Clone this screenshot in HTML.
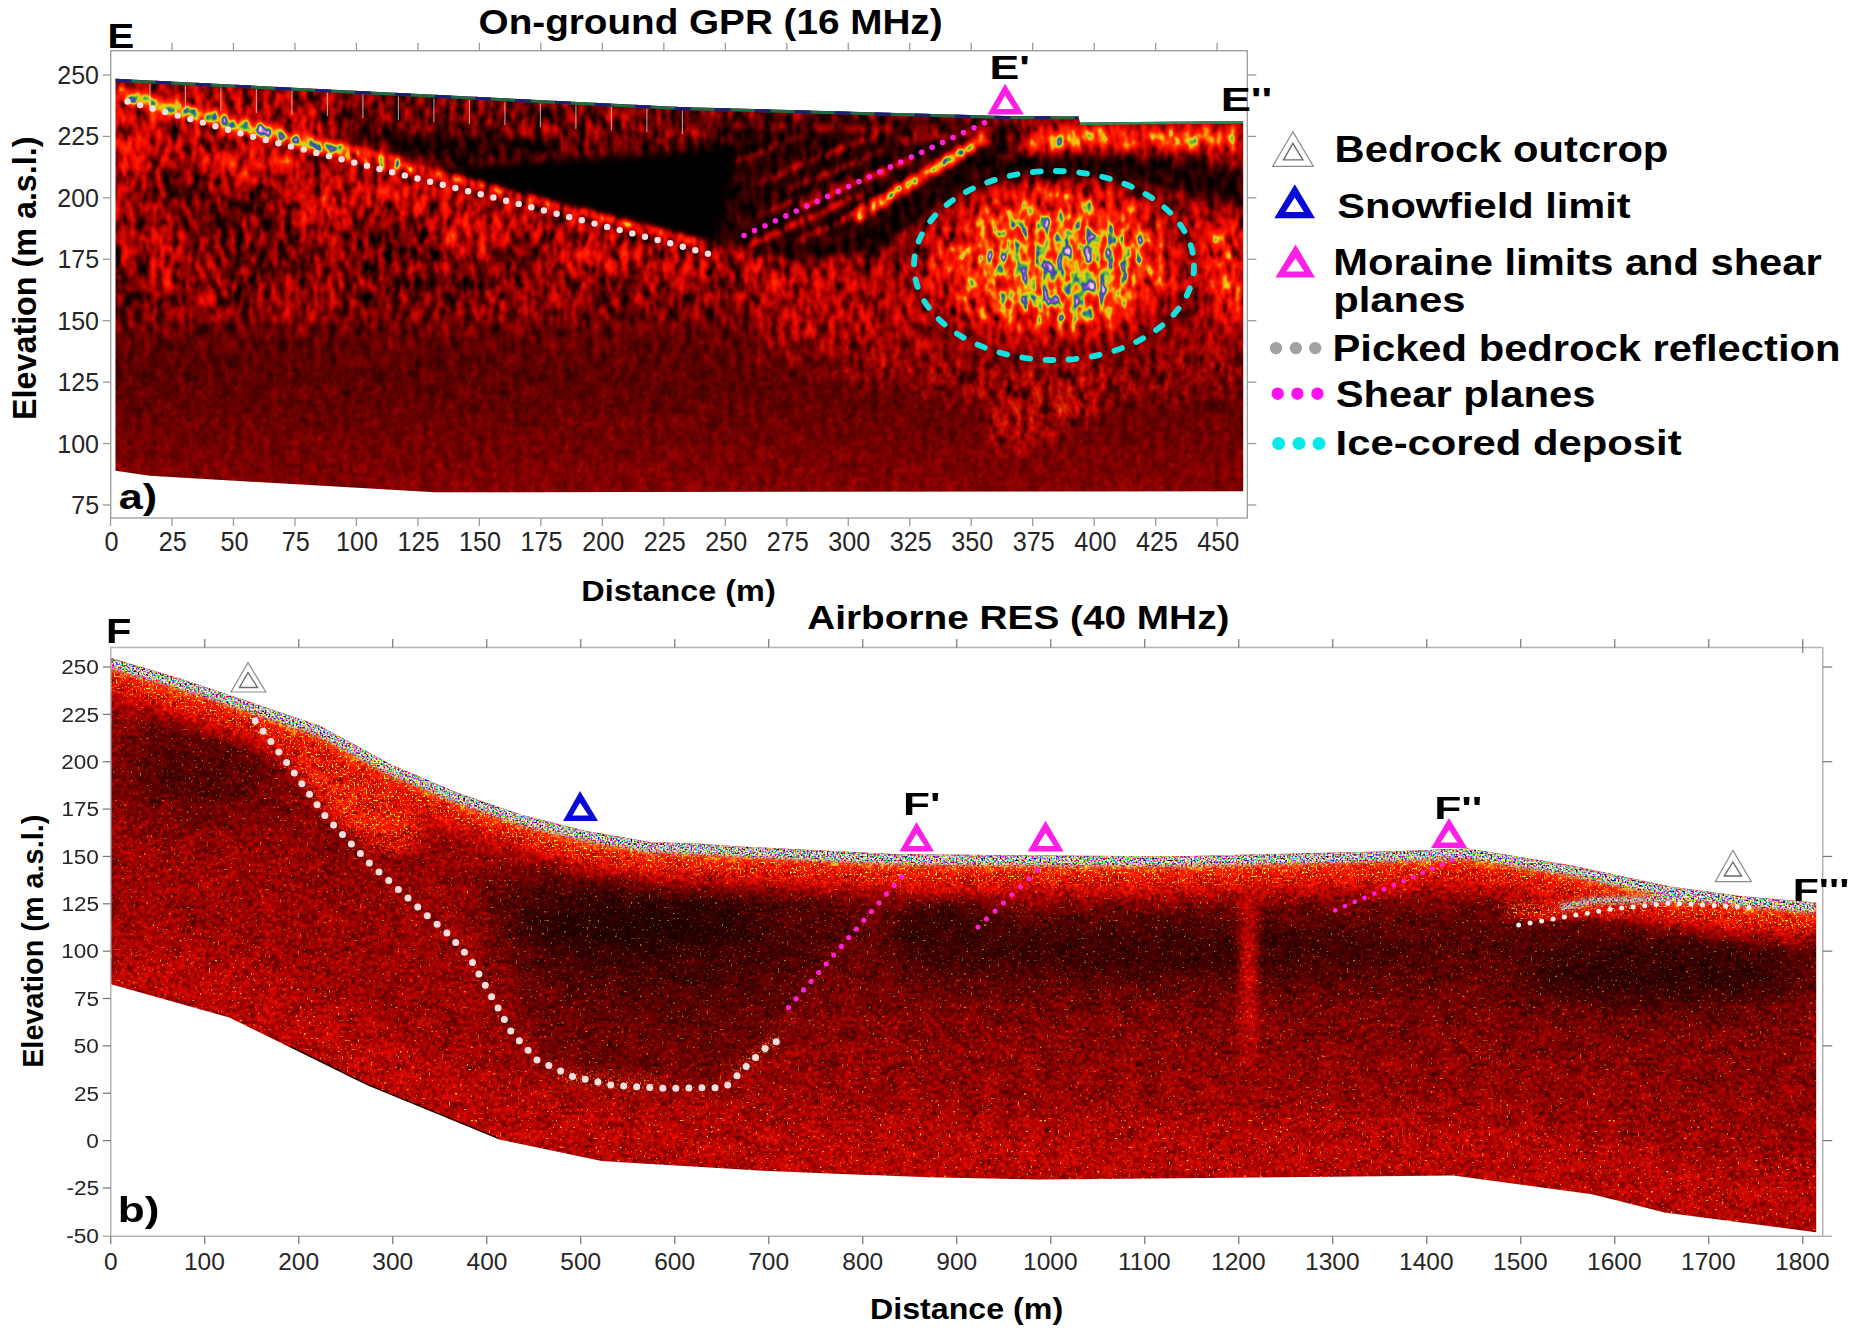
<!DOCTYPE html>
<html><head><meta charset="utf-8"><title>GPR and RES radargrams</title>
<style>html,body{margin:0;padding:0;background:#fff}svg{display:block;filter:blur(0.45px)}text{font-family:"Liberation Sans",sans-serif}</style>
</head><body>
<svg width="1856" height="1337" viewBox="0 0 1856 1337">
<defs>
<clipPath id="cA"><polygon points="115.5,78.8 680.0,107.0 1005.0,116.0 1078.5,116.5 1080.0,122.5 1243.2,121.0 1243.2,491.2 435.0,492.3 150.0,475.8 115.5,470.8"/></clipPath>
<clipPath id="cB"><polygon points="111.0,658.0 180.8,678.8 248.7,701.4 319.8,725.7 391.0,764.5 455.6,792.0 520.3,814.6 585.0,830.7 649.6,842.0 700.0,843.7 731.0,845.9 892.6,854.0 1040.0,855.6 1180.0,856.3 1400.0,851.0 1467.6,848.4 1572.0,865.6 1670.3,886.5 1744.0,896.4 1816.2,902.5 1816.2,1232.2 1664.5,1212.5 1592.0,1194.2 1453.2,1175.5 1040.0,1179.5 928.0,1177.3 763.3,1170.8 601.6,1161.0 499.2,1139.5 464.0,1125.0 368.3,1085.8 229.3,1017.5 111.0,984.3"/></clipPath>
<filter id="b2" x="-50%" y="-50%" width="200%" height="200%" color-interpolation-filters="sRGB"><feGaussianBlur stdDeviation="2"/></filter>
<filter id="b4" x="-50%" y="-50%" width="200%" height="200%" color-interpolation-filters="sRGB"><feGaussianBlur stdDeviation="4"/></filter>
<filter id="b8" x="-50%" y="-50%" width="200%" height="200%" color-interpolation-filters="sRGB"><feGaussianBlur stdDeviation="8"/></filter>
<filter id="b14" x="-50%" y="-50%" width="200%" height="200%" color-interpolation-filters="sRGB"><feGaussianBlur stdDeviation="14"/></filter>
<filter id="b25" x="-50%" y="-50%" width="200%" height="200%" color-interpolation-filters="sRGB"><feGaussianBlur stdDeviation="25"/></filter>
<filter id="b40" x="-50%" y="-50%" width="200%" height="200%" color-interpolation-filters="sRGB"><feGaussianBlur stdDeviation="40"/></filter>
<filter id="fA" filterUnits="userSpaceOnUse" x="108" y="70" width="1142" height="430" color-interpolation-filters="sRGB">
<feTurbulence type="fractalNoise" baseFrequency="0.14 0.065" numOctaves="2" seed="3" result="t0"/>
<feColorMatrix in="t0" type="matrix" values="1 0 0 0 0 1 0 0 0 0 1 0 0 0 0 0 0 0 0 1" result="n0"/>
<feTurbulence type="fractalNoise" baseFrequency="0.5 0.25" numOctaves="1" seed="9" result="t1"/>
<feColorMatrix in="t1" type="matrix" values="1 0 0 0 0 1 0 0 0 0 1 0 0 0 0 0 0 0 0 1" result="n1"/>
<feComposite in="n0" in2="n1" operator="arithmetic" k1="0" k2="0.95" k3="0.25" k4="-0.100" result="N"/>
<feColorMatrix in="SourceGraphic" type="matrix" values="1 0 0 0 0 1 0 0 0 0 1 0 0 0 0 0 0 0 0 1" result="mean"/>
<feColorMatrix in="SourceGraphic" type="matrix" values="0 1 0 0 0 0 1 0 0 0 0 1 0 0 0 0 0 0 0 1" result="con"/>
<feComposite in="con" in2="N" operator="arithmetic" k1="1" k2="0" k3="0" k4="0" result="t1"/>
<feComposite in="t1" in2="con" operator="arithmetic" k1="0" k2="3.4" k3="-1.7" k4="0.5" result="t2"/>
<feComposite in="t2" in2="mean" operator="arithmetic" k1="0" k2="1" k3="1" k4="-0.5" result="v"/>
<feGaussianBlur in="v" stdDeviation="0.9" result="v"/>
<feComponentTransfer in="v"><feFuncR type="table" tableValues="0.000 0.098 0.216 0.353 0.490 0.627 0.745 0.843 0.922 0.980 1.000 1.000 1.000 1.000 0.961 0.843 0.471 0.196 0.235 0.588 0.922"/><feFuncG type="table" tableValues="0.000 0.000 0.000 0.000 0.000 0.008 0.020 0.031 0.047 0.071 0.110 0.176 0.314 0.510 0.725 0.843 0.745 0.549 0.275 0.314 0.843"/><feFuncB type="table" tableValues="0.000 0.000 0.000 0.000 0.000 0.000 0.000 0.000 0.000 0.000 0.000 0.000 0.000 0.020 0.059 0.118 0.196 0.431 0.706 0.784 0.941"/></feComponentTransfer>
</filter>

<filter id="fB" filterUnits="userSpaceOnUse" x="104" y="650" width="1722" height="590" color-interpolation-filters="sRGB">
<feTurbulence type="fractalNoise" baseFrequency="0.33" numOctaves="2" seed="5" result="t0"/>
<feColorMatrix in="t0" type="matrix" values="1 0 0 0 0 1 0 0 0 0 1 0 0 0 0 0 0 0 0 1" result="n0"/>
<feTurbulence type="fractalNoise" baseFrequency="0.05 0.07" numOctaves="2" seed="12" result="t1"/>
<feColorMatrix in="t1" type="matrix" values="1 0 0 0 0 1 0 0 0 0 1 0 0 0 0 0 0 0 0 1" result="n1"/>
<feComposite in="n0" in2="n1" operator="arithmetic" k1="0" k2="0.95" k3="0.22" k4="-0.085" result="N"/>
<feColorMatrix in="SourceGraphic" type="matrix" values="1 0 0 0 0 1 0 0 0 0 1 0 0 0 0 0 0 0 0 1" result="mean"/>
<feColorMatrix in="SourceGraphic" type="matrix" values="0 1 0 0 0 0 1 0 0 0 0 1 0 0 0 0 0 0 0 1" result="con"/>
<feComposite in="con" in2="N" operator="arithmetic" k1="1" k2="0" k3="0" k4="0" result="t1"/>
<feComposite in="t1" in2="con" operator="arithmetic" k1="0" k2="3.0" k3="-1.5" k4="0.5" result="t2"/>
<feComposite in="t2" in2="mean" operator="arithmetic" k1="0" k2="1" k3="1" k4="-0.5" result="v"/>
<feGaussianBlur in="v" stdDeviation="0.8" result="v"/>
<feComponentTransfer in="v"><feFuncR type="table" tableValues="0.000 0.098 0.216 0.353 0.490 0.627 0.745 0.843 0.922 0.980 1.000 1.000 1.000 1.000 0.961 0.843 0.471 0.196 0.235 0.588 0.922"/><feFuncG type="table" tableValues="0.000 0.000 0.000 0.000 0.000 0.008 0.020 0.031 0.047 0.071 0.110 0.176 0.314 0.510 0.725 0.843 0.745 0.549 0.275 0.314 0.843"/><feFuncB type="table" tableValues="0.000 0.000 0.000 0.000 0.000 0.000 0.000 0.000 0.000 0.000 0.000 0.000 0.000 0.020 0.059 0.118 0.196 0.431 0.706 0.784 0.941"/></feComponentTransfer>
</filter>

<linearGradient id="gLow" x1="0" y1="0" x2="0" y2="1"><stop offset="0" stop-color="rgb(41,26,0)"/><stop offset="0.3" stop-color="rgb(47,15,0)"/><stop offset="0.8" stop-color="rgb(64,15,0)"/></linearGradient>
<filter id="fS" filterUnits="userSpaceOnUse" x="104" y="650" width="1722" height="270" color-interpolation-filters="sRGB">
<feTurbulence type="fractalNoise" baseFrequency="0.55" numOctaves="1" seed="4" result="t"/>
<feColorMatrix in="t" type="matrix" values="4.6 0 0 0 -1.55  0 4.6 0 0 -1.55  0 0 4.6 0 -1.55  0 0 0 0 1" result="c"/>
<feGaussianBlur in="c" stdDeviation="0.45" result="cb"/>
<feComposite in="cb" in2="SourceAlpha" operator="in"/></filter>
<filter id="fY" filterUnits="userSpaceOnUse" x="104" y="650" width="1722" height="590" color-interpolation-filters="sRGB">
<feTurbulence type="fractalNoise" baseFrequency="0.5" numOctaves="1" seed="7" result="t"/>
<feColorMatrix in="t" type="matrix" values="0 0 0 0 0.95  0 3 0 0 -0.8  0 0 0 0 0.06  0 0 0 9 -4.95" result="c"/>
<feGaussianBlur in="c" stdDeviation="0.4" result="cb"/>
<feComposite in="cb" in2="SourceAlpha" operator="in"/></filter>
<filter id="fY2" filterUnits="userSpaceOnUse" x="104" y="650" width="1722" height="590" color-interpolation-filters="sRGB">
<feTurbulence type="fractalNoise" baseFrequency="0.45" numOctaves="1" seed="17" result="t"/>
<feColorMatrix in="t" type="matrix" values="0 0 0 0 0.95  0 2 0 0 -0.3  0 0 0 0 0.1  0 0 0 11 -7.3" result="c"/>
<feGaussianBlur in="c" stdDeviation="0.4" result="cb"/>
<feComposite in="cb" in2="SourceAlpha" operator="in"/></filter>
<filter id="fD" filterUnits="userSpaceOnUse" x="100" y="320" width="1160" height="185" color-interpolation-filters="sRGB">
<feTurbulence type="fractalNoise" baseFrequency="0.45 0.22" numOctaves="2" seed="31" result="t"/>
<feColorMatrix in="t" type="matrix" values="0 0 0 0 0  0 0 0 0 0  0 0 0 0 0  0 0 0 6 -2.6" result="c"/>
<feGaussianBlur in="c" stdDeviation="0.8" result="cb"/>
<feComposite in="cb" in2="SourceGraphic" operator="in"/></filter>
<linearGradient id="gGrain" x1="0" y1="0" x2="0" y2="1"><stop offset="0" stop-color="#000" stop-opacity="0"/><stop offset="0.3" stop-color="#000" stop-opacity="0.4"/><stop offset="1" stop-color="#000" stop-opacity="0.32"/></linearGradient>
</defs>
<rect width="1856" height="1337" fill="#fff"/>
<g clip-path="url(#cA)">
<g filter="url(#fA)">
<rect x="100" y="60" width="1160" height="450" fill="rgb(51,48,0)"/>
<g filter="url(#b14)"><polygon points="100,95 420,160 715,250 770,290 600,300 350,300 100,310" fill="rgb(42,56,0)"/></g>
<g filter="url(#b8)"><polygon points="100,92 420,168 715,250 720,280 420,215 100,150" fill="rgb(69,76,0)"/></g>
<rect x="60" y="322" width="1240" height="230" fill="url(#gLow)" filter="url(#b14)"/>
<g filter="url(#b8)">
<ellipse cx="135" cy="150" rx="25" ry="40" fill="rgb(92,78,0)"/>
<ellipse cx="164" cy="255" rx="12" ry="50" fill="rgb(92,78,0)"/>
<ellipse cx="125" cy="230" rx="12" ry="40" fill="rgb(76,65,0)"/>
<ellipse cx="250" cy="165" rx="50" ry="20" fill="rgb(92,78,0)"/>
<ellipse cx="320" cy="205" rx="35" ry="18" fill="rgb(97,82,0)"/>
<ellipse cx="300" cy="300" rx="30" ry="25" fill="rgb(64,54,0)"/>
<ellipse cx="205" cy="280" rx="12" ry="40" fill="rgb(71,61,0)"/>
<ellipse cx="470" cy="238" rx="42" ry="14" fill="rgb(97,82,0)"/>
<ellipse cx="590" cy="262" rx="45" ry="13" fill="rgb(92,78,0)"/>
<ellipse cx="400" cy="200" rx="40" ry="15" fill="rgb(87,74,0)"/>
<ellipse cx="530" cy="300" rx="60" ry="18" fill="rgb(61,52,0)"/>
<ellipse cx="680" cy="275" rx="40" ry="15" fill="rgb(76,65,0)"/>
<ellipse cx="460" cy="225" rx="16" ry="30" fill="rgb(84,72,0)"/>
<ellipse cx="335" cy="255" rx="14" ry="35" fill="rgb(69,59,0)"/>
</g>
<g filter="url(#b4)"><polygon points="115,82 330,93 420,120 330,140 115,98" fill="rgb(69,76,0)"/></g>
<g filter="url(#b8)"><polygon points="330,95 1000,118 1000,150 740,150 330,135" fill="rgb(43,56,0)"/></g>
<g filter="url(#b4)"><polygon points="445,168 520,162 600,157 741,146 730,200 716,237 690,237 600,214 520,193 445,173" fill="rgb(0,0,0)"/>
<polygon points="340,128 560,140 560,155 430,164" fill="rgb(18,31,0)"/></g>
<g filter="url(#b8)"><polygon points="700,150 775,146 770,200 750,240 700,236" fill="rgb(0,5,0)"/></g>
<g filter="url(#b8)"><polygon points="735,245 800,262 860,250 880,290 800,310 745,300" fill="rgb(76,76,0)"/></g>
<g filter="url(#b4)"><polygon points="741,146 700,118 1000,124 1012,150 950,200 870,250 800,262 745,250 716,237" fill="rgb(18,26,0)"/></g>
<g filter="url(#b2)" fill="none" stroke-linecap="round">
<line x1="737" y1="162" x2="800" y2="136" stroke="rgb(56,56,0)" stroke-width="5"/>
<line x1="760" y1="182" x2="875" y2="135" stroke="rgb(66,66,0)" stroke-width="6"/>
<line x1="775" y1="195" x2="880" y2="152" stroke="rgb(61,61,0)" stroke-width="5"/>
<line x1="800" y1="207" x2="910" y2="160" stroke="rgb(76,76,0)" stroke-width="6"/>
<line x1="760" y1="215" x2="850" y2="178" stroke="rgb(56,56,0)" stroke-width="4"/>
<line x1="745" y1="247" x2="870" y2="190" stroke="rgb(76,76,0)" stroke-width="6"/>
<line x1="800" y1="240" x2="905" y2="190" stroke="rgb(87,87,0)" stroke-width="5"/>
<line x1="900" y1="140" x2="990" y2="130" stroke="rgb(64,64,0)" stroke-width="8"/>
<line x1="700" y1="125" x2="990" y2="131" stroke="rgb(43,43,0)" stroke-width="8"/>
</g>
<g filter="url(#b14)"><polygon points="760,300 900,260 940,340 1060,380 1180,340 1243,280 1243,390 1000,410 760,350" fill="rgb(69,56,0)"/></g>
<g filter="url(#b8)"><polygon points="1000,372 1110,360 1090,420 1020,450 985,440" fill="rgb(84,76,0)"/></g>
<g filter="url(#b14)"><ellipse cx="1052" cy="264" rx="128" ry="80" fill="rgb(107,102,0)"/></g>
<g filter="url(#b8)"><ellipse cx="1058" cy="262" rx="95" ry="62" fill="rgb(153,115,0)"/>
<ellipse cx="1068" cy="268" rx="62" ry="42" fill="rgb(178,102,0)"/></g>
<g filter="url(#b4)"><ellipse cx="1085" cy="286" rx="28" ry="9" fill="rgb(209,102,0)" transform="rotate(25 1085 286)"/>
<ellipse cx="1045" cy="262" rx="14" ry="6" fill="rgb(204,102,0)" transform="rotate(-40 1045 262)"/></g>
<g filter="url(#b4)"><path d="M868,262 Q915,205 1005,180 Q1120,170 1243,205 L1243,172 Q1110,148 1000,158 Q915,182 850,240 Z" fill="rgb(13,26,0)"/></g>
<g filter="url(#b4)"><polygon points="1030,126 1240,126 1240,152 1150,148 1030,152" fill="rgb(115,102,0)"/>
<polygon points="1040,133 1110,132 1110,142 1040,143" fill="rgb(189,76,0)"/>
<polygon points="1150,136 1235,133 1235,142 1150,145" fill="rgb(184,76,0)"/></g>
<g filter="url(#b8)"><polygon points="1195,215 1243,225 1243,330 1205,300" fill="rgb(117,102,0)"/></g>
<g filter="url(#b2)"><polyline points="116,93 253,128 330,149 400,166" fill="none" stroke="rgb(148,92,0)" stroke-width="15"/>
<polyline points="130,97 253,128.5 335,150.5" fill="none" stroke="rgb(204,76,0)" stroke-width="8"/>
<polyline points="335,150 460,181" fill="none" stroke="rgb(143,128,0)" stroke-width="7"/>
<polyline points="460,181 700,243" fill="none" stroke="rgb(128,115,0)" stroke-width="6"/>
<polyline points="855,217 987,137" fill="none" stroke="rgb(128,102,0)" stroke-width="12"/>
<polyline points="885,198 980,141" fill="none" stroke="rgb(219,89,0)" stroke-width="6"/>
</g>
</g>
<rect x="100" y="320" width="1160" height="185" fill="url(#gGrain)" filter="url(#fD)"/>
<polyline points="115.5,78.8 680.0,107.0 1005.0,116.0 1078.5,116.5" fill="none" stroke="#1c6a48" stroke-width="6"/>
<polyline points="115.5,78.8 680.0,107.0 1005.0,116.0 1078.5,116.5" fill="none" stroke="#1e1e78" stroke-width="6" stroke-dasharray="16 24"/>
<polyline points="1080.0,122.5 1243.2,121.0" fill="none" stroke="#24905a" stroke-width="5"/>
<g stroke="#fff" stroke-width="1.1" opacity="0.6">
<line x1="149.9" y1="84.0" x2="149.9" y2="107.5"/>
<line x1="185.4" y1="85.7" x2="185.4" y2="109.2"/>
<line x1="220.9" y1="87.5" x2="220.9" y2="111.0"/>
<line x1="256.4" y1="89.3" x2="256.4" y2="112.8"/>
<line x1="291.9" y1="91.1" x2="291.9" y2="114.6"/>
<line x1="327.4" y1="92.8" x2="327.4" y2="116.3"/>
<line x1="362.9" y1="94.6" x2="362.9" y2="118.1"/>
<line x1="398.4" y1="96.4" x2="398.4" y2="119.9"/>
<line x1="433.9" y1="98.2" x2="433.9" y2="121.7"/>
<line x1="469.4" y1="99.9" x2="469.4" y2="123.4"/>
<line x1="504.9" y1="101.7" x2="504.9" y2="125.2"/>
<line x1="540.4" y1="103.5" x2="540.4" y2="127.0"/>
<line x1="575.9" y1="105.3" x2="575.9" y2="128.8"/>
<line x1="611.4" y1="107.0" x2="611.4" y2="130.5"/>
<line x1="646.9" y1="108.8" x2="646.9" y2="132.3"/>
<line x1="682.4" y1="110.6" x2="682.4" y2="134.1"/>
</g>
</g>
<g fill="#efe0e0" opacity="1"><circle cx="127.5" cy="101.5" r="3.2"/><circle cx="140.1" cy="105.0" r="3.2"/><circle cx="152.6" cy="108.5" r="3.2"/><circle cx="165.2" cy="112.1" r="3.2"/><circle cx="177.7" cy="115.6" r="3.2"/><circle cx="190.3" cy="119.1" r="3.2"/><circle cx="202.9" cy="122.6" r="3.2"/><circle cx="215.4" cy="126.2" r="3.2"/><circle cx="228.0" cy="129.7" r="3.2"/><circle cx="240.5" cy="133.2" r="3.2"/><circle cx="253.1" cy="136.7" r="3.2"/><circle cx="265.7" cy="140.0" r="3.2"/><circle cx="278.4" cy="143.2" r="3.2"/><circle cx="291.0" cy="146.4" r="3.2"/><circle cx="303.7" cy="149.6" r="3.2"/><circle cx="316.3" cy="152.9" r="3.2"/><circle cx="328.9" cy="156.1" r="3.2"/><circle cx="341.6" cy="159.3" r="3.2"/><circle cx="354.2" cy="162.6" r="3.2"/><circle cx="366.9" cy="165.8" r="3.2"/><circle cx="379.5" cy="169.0" r="3.2"/><circle cx="392.2" cy="172.2" r="3.2"/><circle cx="404.8" cy="175.4" r="3.2"/><circle cx="417.5" cy="178.5" r="3.2"/><circle cx="430.1" cy="181.7" r="3.2"/><circle cx="442.8" cy="184.8" r="3.2"/><circle cx="455.4" cy="188.0" r="3.2"/><circle cx="468.1" cy="191.2" r="3.2"/><circle cx="480.7" cy="194.3" r="3.2"/><circle cx="493.4" cy="197.5" r="3.2"/><circle cx="506.1" cy="200.7" r="3.2"/><circle cx="518.7" cy="203.9" r="3.2"/><circle cx="531.3" cy="207.2" r="3.2"/><circle cx="543.9" cy="210.5" r="3.2"/><circle cx="556.6" cy="213.8" r="3.2"/><circle cx="569.2" cy="217.0" r="3.2"/><circle cx="581.8" cy="220.3" r="3.2"/><circle cx="594.5" cy="223.6" r="3.2"/><circle cx="607.1" cy="226.9" r="3.2"/><circle cx="619.7" cy="230.1" r="3.2"/><circle cx="632.3" cy="233.4" r="3.2"/><circle cx="645.0" cy="236.7" r="3.2"/><circle cx="657.6" cy="240.0" r="3.2"/><circle cx="670.2" cy="243.2" r="3.2"/><circle cx="682.8" cy="246.7" r="3.2"/><circle cx="695.3" cy="250.3" r="3.2"/><circle cx="707.9" cy="253.8" r="3.2"/></g>
<g fill="#ff20dc" opacity="1"><circle cx="744.1" cy="235.5" r="2.8"/><circle cx="754.5" cy="230.6" r="2.8"/><circle cx="765.0" cy="225.7" r="2.8"/><circle cx="775.4" cy="220.8" r="2.8"/><circle cx="785.9" cy="215.9" r="2.8"/><circle cx="796.3" cy="211.0" r="2.8"/><circle cx="806.8" cy="206.1" r="2.8"/><circle cx="817.2" cy="201.2" r="2.8"/><circle cx="827.7" cy="196.3" r="2.8"/><circle cx="838.1" cy="191.4" r="2.8"/><circle cx="848.6" cy="186.5" r="2.8"/><circle cx="859.0" cy="181.6" r="2.8"/><circle cx="869.5" cy="176.7" r="2.8"/><circle cx="879.9" cy="171.8" r="2.8"/><circle cx="890.4" cy="166.9" r="2.8"/><circle cx="900.8" cy="162.0" r="2.8"/><circle cx="911.3" cy="157.1" r="2.8"/><circle cx="921.7" cy="152.2" r="2.8"/><circle cx="932.2" cy="147.3" r="2.8"/><circle cx="942.6" cy="142.4" r="2.8"/><circle cx="953.1" cy="137.5" r="2.8"/><circle cx="963.5" cy="132.6" r="2.8"/><circle cx="974.0" cy="127.7" r="2.8"/><circle cx="984.4" cy="122.8" r="2.8"/></g>
<ellipse cx="1054" cy="265.5" rx="140" ry="94.5" fill="none" stroke="#14e0e0" stroke-width="5.8" stroke-linecap="round" stroke-dasharray="8 15.3"/>
<g stroke="#9a9a9a" stroke-width="1.3" fill="none">
<rect x="110.75" y="50.75" width="1136.55" height="467.25"/>
<line x1="110.50" y1="518.0" x2="110.50" y2="526.0"/>
<line x1="171.98" y1="518.0" x2="171.98" y2="526.0"/>
<line x1="171.98" y1="50.75" x2="171.98" y2="42.75"/>
<line x1="233.46" y1="518.0" x2="233.46" y2="526.0"/>
<line x1="233.46" y1="50.75" x2="233.46" y2="42.75"/>
<line x1="294.94" y1="518.0" x2="294.94" y2="526.0"/>
<line x1="294.94" y1="50.75" x2="294.94" y2="42.75"/>
<line x1="356.42" y1="518.0" x2="356.42" y2="526.0"/>
<line x1="356.42" y1="50.75" x2="356.42" y2="42.75"/>
<line x1="417.90" y1="518.0" x2="417.90" y2="526.0"/>
<line x1="417.90" y1="50.75" x2="417.90" y2="42.75"/>
<line x1="479.38" y1="518.0" x2="479.38" y2="526.0"/>
<line x1="479.38" y1="50.75" x2="479.38" y2="42.75"/>
<line x1="540.86" y1="518.0" x2="540.86" y2="526.0"/>
<line x1="540.86" y1="50.75" x2="540.86" y2="42.75"/>
<line x1="602.34" y1="518.0" x2="602.34" y2="526.0"/>
<line x1="602.34" y1="50.75" x2="602.34" y2="42.75"/>
<line x1="663.82" y1="518.0" x2="663.82" y2="526.0"/>
<line x1="663.82" y1="50.75" x2="663.82" y2="42.75"/>
<line x1="725.30" y1="518.0" x2="725.30" y2="526.0"/>
<line x1="725.30" y1="50.75" x2="725.30" y2="42.75"/>
<line x1="786.78" y1="518.0" x2="786.78" y2="526.0"/>
<line x1="786.78" y1="50.75" x2="786.78" y2="42.75"/>
<line x1="848.26" y1="518.0" x2="848.26" y2="526.0"/>
<line x1="848.26" y1="50.75" x2="848.26" y2="42.75"/>
<line x1="909.74" y1="518.0" x2="909.74" y2="526.0"/>
<line x1="909.74" y1="50.75" x2="909.74" y2="42.75"/>
<line x1="971.22" y1="518.0" x2="971.22" y2="526.0"/>
<line x1="971.22" y1="50.75" x2="971.22" y2="42.75"/>
<line x1="1032.70" y1="518.0" x2="1032.70" y2="526.0"/>
<line x1="1032.70" y1="50.75" x2="1032.70" y2="42.75"/>
<line x1="1094.18" y1="518.0" x2="1094.18" y2="526.0"/>
<line x1="1094.18" y1="50.75" x2="1094.18" y2="42.75"/>
<line x1="1155.66" y1="518.0" x2="1155.66" y2="526.0"/>
<line x1="1155.66" y1="50.75" x2="1155.66" y2="42.75"/>
<line x1="1217.14" y1="518.0" x2="1217.14" y2="526.0"/>
<line x1="1217.14" y1="50.75" x2="1217.14" y2="42.75"/>
<line x1="110.75" y1="504.97" x2="102.75" y2="504.97"/>
<line x1="1247.3" y1="504.97" x2="1256.3" y2="504.97"/>
<line x1="110.75" y1="443.55" x2="102.75" y2="443.55"/>
<line x1="1247.3" y1="443.55" x2="1256.3" y2="443.55"/>
<line x1="110.75" y1="382.12" x2="102.75" y2="382.12"/>
<line x1="1247.3" y1="382.12" x2="1256.3" y2="382.12"/>
<line x1="110.75" y1="320.70" x2="102.75" y2="320.70"/>
<line x1="1247.3" y1="320.70" x2="1256.3" y2="320.70"/>
<line x1="110.75" y1="259.27" x2="102.75" y2="259.27"/>
<line x1="1247.3" y1="259.27" x2="1256.3" y2="259.27"/>
<line x1="110.75" y1="197.85" x2="102.75" y2="197.85"/>
<line x1="1247.3" y1="197.85" x2="1256.3" y2="197.85"/>
<line x1="110.75" y1="136.43" x2="102.75" y2="136.43"/>
<line x1="1247.3" y1="136.43" x2="1256.3" y2="136.43"/>
<line x1="110.75" y1="75.00" x2="102.75" y2="75.00"/>
<line x1="1247.3" y1="75.00" x2="1256.3" y2="75.00"/>
</g>
<text transform="translate(104.47,550.75) scale(0.9000,1)" font-size="28" font-weight="normal" fill="#262626">0</text>
<text transform="translate(158.86,550.75) scale(0.9000,1)" font-size="28" font-weight="normal" fill="#262626">25</text>
<text transform="translate(220.40,550.75) scale(0.9000,1)" font-size="28" font-weight="normal" fill="#262626">50</text>
<text transform="translate(281.82,550.75) scale(0.9000,1)" font-size="28" font-weight="normal" fill="#262626">75</text>
<text transform="translate(335.93,550.75) scale(0.9000,1)" font-size="28" font-weight="normal" fill="#262626">100</text>
<text transform="translate(397.47,550.75) scale(0.9000,1)" font-size="28" font-weight="normal" fill="#262626">125</text>
<text transform="translate(458.89,550.75) scale(0.9000,1)" font-size="28" font-weight="normal" fill="#262626">150</text>
<text transform="translate(520.43,550.75) scale(0.9000,1)" font-size="28" font-weight="normal" fill="#262626">175</text>
<text transform="translate(582.19,550.75) scale(0.9000,1)" font-size="28" font-weight="normal" fill="#262626">200</text>
<text transform="translate(643.73,550.75) scale(0.9000,1)" font-size="28" font-weight="normal" fill="#262626">225</text>
<text transform="translate(705.15,550.75) scale(0.9000,1)" font-size="28" font-weight="normal" fill="#262626">250</text>
<text transform="translate(766.69,550.75) scale(0.9000,1)" font-size="28" font-weight="normal" fill="#262626">275</text>
<text transform="translate(828.22,550.75) scale(0.9000,1)" font-size="28" font-weight="normal" fill="#262626">300</text>
<text transform="translate(889.76,550.75) scale(0.9000,1)" font-size="28" font-weight="normal" fill="#262626">325</text>
<text transform="translate(951.18,550.75) scale(0.9000,1)" font-size="28" font-weight="normal" fill="#262626">350</text>
<text transform="translate(1012.72,550.75) scale(0.9000,1)" font-size="28" font-weight="normal" fill="#262626">375</text>
<text transform="translate(1074.37,550.75) scale(0.9000,1)" font-size="28" font-weight="normal" fill="#262626">400</text>
<text transform="translate(1135.90,550.75) scale(0.9000,1)" font-size="28" font-weight="normal" fill="#262626">425</text>
<text transform="translate(1197.33,550.75) scale(0.9000,1)" font-size="28" font-weight="normal" fill="#262626">450</text>
<text transform="translate(71.25,513.97) scale(1.0000,1)" font-size="25" font-weight="normal" fill="#262626">75</text>
<text transform="translate(57.25,452.55) scale(1.0000,1)" font-size="25" font-weight="normal" fill="#262626">100</text>
<text transform="translate(57.38,391.12) scale(1.0000,1)" font-size="25" font-weight="normal" fill="#262626">125</text>
<text transform="translate(57.25,329.70) scale(1.0000,1)" font-size="25" font-weight="normal" fill="#262626">150</text>
<text transform="translate(57.38,268.27) scale(1.0000,1)" font-size="25" font-weight="normal" fill="#262626">175</text>
<text transform="translate(57.25,206.85) scale(1.0000,1)" font-size="25" font-weight="normal" fill="#262626">200</text>
<text transform="translate(57.38,145.43) scale(1.0000,1)" font-size="25" font-weight="normal" fill="#262626">225</text>
<text transform="translate(57.25,84.00) scale(1.0000,1)" font-size="25" font-weight="normal" fill="#262626">250</text>
<text transform="translate(478.57,33.70) scale(1.0898,1)" font-size="35.5" font-weight="bold" fill="#000" >On-ground GPR (16 MHz)</text>
<text transform="translate(107.39,48.00) scale(1.1613,1)" font-size="34.5" font-weight="bold" fill="#000" >E</text>
<text transform="translate(989.46,78.75) scale(1.3527,1)" font-size="33" font-weight="bold" fill="#000" >E'</text>
<text transform="translate(1220.67,111.25) scale(1.3704,1)" font-size="33" font-weight="bold" fill="#000" >E''</text>
<text transform="translate(118.77,508.75) scale(1.2335,1)" font-size="35" font-weight="bold" fill="#000" >a)</text>
<text transform="translate(36.00,419.94) rotate(-90) scale(0.9497,1)" font-size="34" font-weight="bold" fill="#000">Elevation (m a.s.l.)</text>
<text transform="translate(581.26,600.70) scale(1.0694,1)" font-size="30.3" font-weight="bold" fill="#000" >Distance (m)</text>
<path fill="#ff1ee6" fill-rule="evenodd" d="M1005.0,83.8 L1023.8,114.5 L987.5,114.5 Z M1005.0,95.7 L1013.9,108.9 L997.3,108.9 Z"/>
<path fill="#fff" fill-opacity="0.85" stroke="#8c8c8c" stroke-width="1.2" d="M1292.9,131.6 L1313.4,166.4 L1272.6,166.4 Z"/>
<path fill="none" stroke="#6a6a6a" stroke-width="1.4" d="M1292.9,143.4 L1302.9,159.9 L1283.5,159.9 Z"/>
<path fill="#0a0ad8" fill-rule="evenodd" d="M1294.8,184.3 L1315.0,218.3 L1274.3,218.3 Z M1294.8,197.6 L1304.0,212.1 L1285.4,212.1 Z"/>
<path fill="#ff1ee6" fill-rule="evenodd" d="M1295.6,244.5 L1315.0,277.6 L1275.4,277.6 Z M1295.6,258.2 L1304.2,271.6 L1286.2,271.6 Z"/>
<text transform="translate(1334.57,162.30) scale(1.1466,1)" font-size="36.4" font-weight="bold" fill="#000" >Bedrock outcrop</text>
<text transform="translate(1337.24,217.50) scale(1.1560,1)" font-size="36" font-weight="bold" fill="#000" >Snowfield limit</text>
<text transform="translate(1333.25,274.80) scale(1.1575,1)" font-size="36" font-weight="bold" fill="#000" >Moraine limits and shear</text>
<text transform="translate(1333.24,312.40) scale(1.1605,1)" font-size="36" font-weight="bold" fill="#000" >planes</text>
<text transform="translate(1332.48,361.40) scale(1.1438,1)" font-size="36.5" font-weight="bold" fill="#000" >Picked bedrock reflection</text>
<text transform="translate(1335.64,407.30) scale(1.1596,1)" font-size="36" font-weight="bold" fill="#000" >Shear planes</text>
<text transform="translate(1335.60,455.10) scale(1.1772,1)" font-size="35.5" font-weight="bold" fill="#000" >Ice-cored deposit</text>
<circle cx="1276" cy="348.1" r="6.2" fill="#a2a2a2"/>
<circle cx="1295.8" cy="348.1" r="6.2" fill="#a2a2a2"/>
<circle cx="1315.2" cy="348.1" r="6.2" fill="#a2a2a2"/>
<circle cx="1277.7" cy="393.7" r="6.2" fill="#ff10f0"/>
<circle cx="1297.4" cy="393.7" r="6.2" fill="#ff10f0"/>
<circle cx="1317.4" cy="393.7" r="6.2" fill="#ff10f0"/>
<circle cx="1278.6" cy="443.5" r="6.5" fill="#08eaea"/>
<circle cx="1299" cy="443.5" r="6.5" fill="#08eaea"/>
<circle cx="1319" cy="443.5" r="6.5" fill="#08eaea"/>
<g clip-path="url(#cB)">
<g filter="url(#fB)">
<rect x="100" y="640" width="1730" height="610" fill="rgb(61,54,0)"/>
<polyline points="1816.2,1207.2 1664.5,1187.5 1592.0,1169.2 1453.2,1150.5 1040.0,1154.5 928.0,1152.3 763.3,1145.8 601.6,1136.0 499.2,1114.5 464.0,1100.0 368.3,1060.8 229.3,992.5 111.0,959.3" fill="none" stroke="rgb(73,61,0)" stroke-width="70" filter="url(#b14)"/>
<g filter="url(#b40)"><polygon points="860,900 1500,900 1830,930 1830,1090 1500,1060 860,1040" fill="rgb(48,48,0)"/>
<polygon points="470,860 880,880 860,1040 560,1040" fill="rgb(51,48,0)"/></g>
<g filter="url(#b8)"><polygon points="478,885 505,965 525,1030 550,1058 605,1072 700,1076 728,1068 775,1030 850,935 885,885 700,870" fill="rgb(45,43,0)"/></g>
<g filter="url(#b25)">
<ellipse cx="195" cy="770" rx="85" ry="50" fill="rgb(33,33,0)"/>
<ellipse cx="330" cy="835" rx="80" ry="30" fill="rgb(51,41,0)" transform="rotate(38 330 835)"/>
<polygon points="490,875 640,885 870,905 815,985 700,1020 570,995 505,930" fill="rgb(31,31,0)"/>
<rect x="880" y="915" width="960" height="65" fill="rgb(33,33,0)"/>
</g>
<g filter="url(#b14)">
<ellipse cx="640" cy="925" rx="120" ry="28" fill="rgb(18,20,0)"/>
<ellipse cx="1660" cy="975" rx="140" ry="30" fill="rgb(23,26,0)"/>
<ellipse cx="1150" cy="950" rx="250" ry="22" fill="rgb(26,26,0)"/>
<ellipse cx="940" cy="930" rx="50" ry="35" fill="rgb(26,26,0)"/>
</g>
<rect x="1240" y="895" width="17" height="175" fill="rgb(76,56,0)" filter="url(#b4)"/>
<g filter="url(#b8)"><polygon points="275,733 330,745 400,790 425,830 395,852 340,822 300,772" fill="rgb(107,128,0)"/></g>
<polyline points="1525,914 1592,906 1700,908 1816,916" fill="none" stroke="rgb(102,102,0)" stroke-linecap="round" stroke-width="18" filter="url(#b8)"/>
<polyline points="111.0,680.0 180.8,700.8 248.7,723.4 319.8,747.7 391.0,786.5 455.6,814.0 520.3,836.6 585.0,852.7 649.6,864.0 700.0,865.7 731.0,867.9 892.6,876.0 1040.0,877.6 1180.0,878.3 1400.0,873.0 1467.6,870.4 1572.0,887.6 1670.3,908.5 1744.0,918.4 1816.2,924.5" fill="none" stroke="rgb(92,82,0)" stroke-width="36" filter="url(#b8)"/>
<polyline points="111.0,667.0 180.8,687.8 248.7,710.4 319.8,734.7 391.0,773.5 455.6,801.0 520.3,823.6 585.0,839.7 649.6,851.0 700.0,852.7 731.0,854.9 892.6,863.0 1040.0,864.6 1180.0,865.3 1400.0,860.0 1467.6,857.4 1572.0,874.6 1670.3,895.5 1744.0,905.4 1816.2,911.5" fill="none" stroke="rgb(143,128,0)" stroke-width="15" filter="url(#b4)"/>
</g>
<g filter="url(#fY2)"><rect x="100" y="640" width="1730" height="610" fill="#000" opacity="0.55"/>
<polyline points="1816.2,1202.2 1664.5,1182.5 1592.0,1164.2 1453.2,1145.5 1040.0,1149.5 928.0,1147.3 763.3,1140.8 601.6,1131.0 499.2,1109.5 464.0,1095.0 368.3,1055.8 229.3,987.5 111.0,954.3" fill="none" stroke="#000" stroke-width="90" opacity="0.6" filter="url(#b14)"/></g>
<g filter="url(#fY)"><polyline points="111.0,672.0 180.8,692.8 248.7,715.4 319.8,739.7 391.0,778.5 455.6,806.0 520.3,828.6 585.0,844.7 649.6,856.0 700.0,857.7 731.0,859.9 892.6,868.0 1040.0,869.6 1180.0,870.3 1400.0,865.0 1467.6,862.4 1572.0,879.6 1670.3,900.5 1744.0,910.4 1816.2,916.5" fill="none" stroke="#000" stroke-width="30" filter="url(#b4)"/>
<polyline points="1508,913 1560,908 1592,904 1700,906 1816,914" fill="none" stroke="#000" stroke-width="16" filter="url(#b4)"/>
<g filter="url(#b4)" fill="none" stroke="#000" stroke-width="9" opacity="0.8"><polyline points="560,1076 640,1084 660,1083"/><polyline points="735,1074 778,1036"/></g>
<g filter="url(#b8)"><polygon points="275,733 330,745 400,790 425,830 395,852 340,822 300,772" fill="#000" opacity="0.9"/></g></g>
<polyline points="290,1046.5 368.3,1085.3 464,1124.5 498,1138.5" fill="none" stroke="#100000" stroke-width="1.8"/>
<g filter="url(#fS)"><g filter="url(#b2)"><polyline points="111.0,662.5 180.8,683.3 248.7,705.9 319.8,730.2 391.0,769.0 455.6,796.5 520.3,819.1 585.0,835.2 649.6,846.5 700.0,848.2 731.0,850.4 892.6,858.5 1040.0,860.1 1180.0,860.8 1400.0,855.5 1467.6,852.9 1572.0,870.1 1670.3,891.0 1744.0,900.9 1816.2,907.0" fill="none" stroke="#000" stroke-width="12"/>
<polyline points="1560,908 1592,900.5 1700,899 1760,901 1816,906" fill="none" stroke="#000" stroke-width="7" opacity="0.9"/></g></g>
</g>
<g fill="#f3dede" opacity="1"><circle cx="255.2" cy="720.8" r="3.5"/><circle cx="263.1" cy="731.2" r="3.5"/><circle cx="270.9" cy="741.6" r="3.5"/><circle cx="278.8" cy="752.1" r="3.5"/><circle cx="286.6" cy="762.5" r="3.5"/><circle cx="294.3" cy="773.1" r="3.5"/><circle cx="301.9" cy="783.7" r="3.5"/><circle cx="309.5" cy="794.2" r="3.5"/><circle cx="317.1" cy="804.8" r="3.5"/><circle cx="324.8" cy="815.4" r="3.5"/><circle cx="333.6" cy="825.0" r="3.5"/><circle cx="342.5" cy="834.6" r="3.5"/><circle cx="351.4" cy="844.1" r="3.5"/><circle cx="360.4" cy="853.6" r="3.5"/><circle cx="369.3" cy="863.1" r="3.5"/><circle cx="379.0" cy="871.9" r="3.5"/><circle cx="388.7" cy="880.6" r="3.5"/><circle cx="398.3" cy="889.4" r="3.5"/><circle cx="408.0" cy="898.1" r="3.5"/><circle cx="417.7" cy="906.9" r="3.5"/><circle cx="427.3" cy="915.7" r="3.5"/><circle cx="437.1" cy="924.3" r="3.5"/><circle cx="446.9" cy="932.9" r="3.5"/><circle cx="455.7" cy="942.6" r="3.5"/><circle cx="464.4" cy="952.3" r="3.5"/><circle cx="472.5" cy="962.5" r="3.5"/><circle cx="478.9" cy="973.9" r="3.5"/><circle cx="485.3" cy="985.3" r="3.5"/><circle cx="491.6" cy="996.7" r="3.5"/><circle cx="498.0" cy="1008.1" r="3.5"/><circle cx="504.3" cy="1019.5" r="3.5"/><circle cx="510.7" cy="1030.9" r="3.5"/><circle cx="519.3" cy="1040.7" r="3.5"/><circle cx="528.1" cy="1050.3" r="3.5"/><circle cx="537.0" cy="1059.9" r="3.5"/><circle cx="548.8" cy="1065.4" r="3.5"/><circle cx="560.6" cy="1070.9" r="3.5"/><circle cx="572.5" cy="1076.4" r="3.5"/><circle cx="585.2" cy="1079.2" r="3.5"/><circle cx="597.9" cy="1082.1" r="3.5"/><circle cx="610.7" cy="1085.0" r="3.5"/><circle cx="623.7" cy="1085.9" r="3.5"/><circle cx="636.7" cy="1086.7" r="3.5"/><circle cx="649.7" cy="1087.5" r="3.5"/><circle cx="662.8" cy="1088.3" r="3.5"/><circle cx="675.8" cy="1088.2" r="3.5"/><circle cx="688.9" cy="1088.0" r="3.5"/><circle cx="701.9" cy="1087.8" r="3.5"/><circle cx="715.0" cy="1087.7" r="3.5"/><circle cx="727.7" cy="1085.1" r="3.5"/><circle cx="737.0" cy="1075.8" r="3.5"/><circle cx="746.2" cy="1066.6" r="3.5"/><circle cx="755.6" cy="1057.6" r="3.5"/><circle cx="765.0" cy="1048.5" r="3.5"/><circle cx="776.2" cy="1041.8" r="3.5"/></g>
<g fill="#ff20dc" opacity="1"><circle cx="788.5" cy="1007.5" r="2.6"/><circle cx="796.0" cy="998.8" r="2.6"/><circle cx="803.6" cy="990.0" r="2.6"/><circle cx="811.1" cy="981.3" r="2.6"/><circle cx="818.7" cy="972.6" r="2.6"/><circle cx="826.2" cy="963.9" r="2.6"/><circle cx="833.7" cy="955.1" r="2.6"/><circle cx="841.3" cy="946.4" r="2.6"/><circle cx="848.8" cy="937.7" r="2.6"/><circle cx="856.4" cy="929.0" r="2.6"/><circle cx="863.9" cy="920.2" r="2.6"/><circle cx="871.4" cy="911.5" r="2.6"/><circle cx="879.0" cy="902.8" r="2.6"/><circle cx="886.5" cy="894.1" r="2.6"/><circle cx="894.1" cy="885.3" r="2.6"/><circle cx="901.6" cy="876.6" r="2.6"/></g>
<g fill="#ff20dc" opacity="1"><circle cx="978.0" cy="927.1" r="2.5"/><circle cx="986.5" cy="919.0" r="2.5"/><circle cx="995.0" cy="911.0" r="2.5"/><circle cx="1003.5" cy="902.9" r="2.5"/><circle cx="1011.9" cy="894.8" r="2.5"/><circle cx="1020.4" cy="886.7" r="2.5"/><circle cx="1028.9" cy="878.7" r="2.5"/><circle cx="1037.4" cy="870.6" r="2.5"/></g>
<g fill="#ff20dc" opacity="1"><circle cx="1335.2" cy="910.3" r="2.4"/><circle cx="1345.0" cy="906.1" r="2.4"/><circle cx="1354.7" cy="901.9" r="2.4"/><circle cx="1364.5" cy="897.8" r="2.4"/><circle cx="1374.2" cy="893.6" r="2.4"/><circle cx="1384.0" cy="889.4" r="2.4"/><circle cx="1393.7" cy="885.2" r="2.4"/><circle cx="1403.5" cy="881.1" r="2.4"/><circle cx="1413.2" cy="876.9" r="2.4"/><circle cx="1423.0" cy="872.7" r="2.4"/><circle cx="1432.7" cy="868.6" r="2.4"/><circle cx="1442.5" cy="864.4" r="2.4"/><circle cx="1452.2" cy="860.2" r="2.4"/></g>
<g fill="#f6eaea" opacity="1"><circle cx="1518.7" cy="925.1" r="2.5"/><circle cx="1530.1" cy="923.1" r="2.5"/><circle cx="1541.6" cy="921.1" r="2.5"/><circle cx="1553.0" cy="919.1" r="2.5"/><circle cx="1564.4" cy="917.1" r="2.5"/><circle cx="1575.8" cy="915.1" r="2.5"/><circle cx="1587.3" cy="913.2" r="2.5"/><circle cx="1598.7" cy="911.2" r="2.5"/><circle cx="1610.1" cy="909.3" r="2.5"/><circle cx="1621.7" cy="908.1" r="2.5"/><circle cx="1633.2" cy="906.9" r="2.5"/><circle cx="1644.7" cy="905.8" r="2.5"/><circle cx="1656.3" cy="904.6" r="2.5"/><circle cx="1667.8" cy="903.4" r="2.5"/><circle cx="1679.4" cy="903.7" r="2.5"/><circle cx="1691.0" cy="904.3" r="2.5"/><circle cx="1702.6" cy="904.9" r="2.5"/><circle cx="1714.2" cy="905.5" r="2.5"/><circle cx="1725.7" cy="906.2" r="2.5"/><circle cx="1737.3" cy="906.8" r="2.5"/><circle cx="1748.9" cy="907.4" r="2.5"/></g>
<g stroke="#b4b4b4" stroke-width="1.5" fill="none">
<polyline points="110.75,1236.25 110.75,647.5 1822.75,647.5 1822.75,1236.25"/>
<line x1="102.75" y1="1236.25" x2="1832.25" y2="1236.25"/></g>
<g stroke="#747474" stroke-width="1.2" fill="none">
<line x1="110.75" y1="1236.25" x2="110.75" y2="1244.25"/>
<line x1="204.75" y1="1236.25" x2="204.75" y2="1244.25"/>
<line x1="204.75" y1="647.5" x2="204.75" y2="639.0"/>
<line x1="298.75" y1="1236.25" x2="298.75" y2="1244.25"/>
<line x1="298.75" y1="647.5" x2="298.75" y2="639.0"/>
<line x1="392.75" y1="1236.25" x2="392.75" y2="1244.25"/>
<line x1="392.75" y1="647.5" x2="392.75" y2="639.0"/>
<line x1="486.75" y1="1236.25" x2="486.75" y2="1244.25"/>
<line x1="486.75" y1="647.5" x2="486.75" y2="639.0"/>
<line x1="580.75" y1="1236.25" x2="580.75" y2="1244.25"/>
<line x1="580.75" y1="647.5" x2="580.75" y2="639.0"/>
<line x1="674.75" y1="1236.25" x2="674.75" y2="1244.25"/>
<line x1="674.75" y1="647.5" x2="674.75" y2="639.0"/>
<line x1="768.75" y1="1236.25" x2="768.75" y2="1244.25"/>
<line x1="768.75" y1="647.5" x2="768.75" y2="639.0"/>
<line x1="862.75" y1="1236.25" x2="862.75" y2="1244.25"/>
<line x1="862.75" y1="647.5" x2="862.75" y2="639.0"/>
<line x1="956.75" y1="1236.25" x2="956.75" y2="1244.25"/>
<line x1="956.75" y1="647.5" x2="956.75" y2="639.0"/>
<line x1="1050.75" y1="1236.25" x2="1050.75" y2="1244.25"/>
<line x1="1050.75" y1="647.5" x2="1050.75" y2="639.0"/>
<line x1="1144.75" y1="1236.25" x2="1144.75" y2="1244.25"/>
<line x1="1144.75" y1="647.5" x2="1144.75" y2="639.0"/>
<line x1="1238.75" y1="1236.25" x2="1238.75" y2="1244.25"/>
<line x1="1238.75" y1="647.5" x2="1238.75" y2="639.0"/>
<line x1="1332.75" y1="1236.25" x2="1332.75" y2="1244.25"/>
<line x1="1332.75" y1="647.5" x2="1332.75" y2="639.0"/>
<line x1="1426.75" y1="1236.25" x2="1426.75" y2="1244.25"/>
<line x1="1426.75" y1="647.5" x2="1426.75" y2="639.0"/>
<line x1="1520.75" y1="1236.25" x2="1520.75" y2="1244.25"/>
<line x1="1520.75" y1="647.5" x2="1520.75" y2="639.0"/>
<line x1="1614.75" y1="1236.25" x2="1614.75" y2="1244.25"/>
<line x1="1614.75" y1="647.5" x2="1614.75" y2="639.0"/>
<line x1="1708.75" y1="1236.25" x2="1708.75" y2="1244.25"/>
<line x1="1708.75" y1="647.5" x2="1708.75" y2="639.0"/>
<line x1="1802.75" y1="1236.25" x2="1802.75" y2="1244.25"/>
<line x1="1802.75" y1="653.0" x2="1802.75" y2="639.0"/>
<line x1="110.75" y1="1187.96" x2="102.75" y2="1187.96"/>
<line x1="110.75" y1="1140.60" x2="102.75" y2="1140.60"/>
<line x1="110.75" y1="1093.24" x2="102.75" y2="1093.24"/>
<line x1="110.75" y1="1045.88" x2="102.75" y2="1045.88"/>
<line x1="110.75" y1="998.52" x2="102.75" y2="998.52"/>
<line x1="110.75" y1="951.16" x2="102.75" y2="951.16"/>
<line x1="110.75" y1="903.80" x2="102.75" y2="903.80"/>
<line x1="110.75" y1="856.44" x2="102.75" y2="856.44"/>
<line x1="110.75" y1="809.08" x2="102.75" y2="809.08"/>
<line x1="110.75" y1="761.72" x2="102.75" y2="761.72"/>
<line x1="110.75" y1="714.36" x2="102.75" y2="714.36"/>
<line x1="110.75" y1="667.00" x2="102.75" y2="667.00"/>
<line x1="1822.75" y1="1140.60" x2="1832.25" y2="1140.60"/>
<line x1="1822.75" y1="1045.88" x2="1832.25" y2="1045.88"/>
<line x1="1822.75" y1="951.16" x2="1832.25" y2="951.16"/>
<line x1="1822.75" y1="856.44" x2="1832.25" y2="856.44"/>
<line x1="1822.75" y1="761.72" x2="1832.25" y2="761.72"/>
<line x1="1822.75" y1="667.00" x2="1832.25" y2="667.00"/>
</g>
<text transform="translate(103.94,1270.30) scale(1.0000,1)" font-size="24.5" font-weight="normal" fill="#262626">0</text>
<text transform="translate(183.88,1270.30) scale(1.0000,1)" font-size="24.5" font-weight="normal" fill="#262626">100</text>
<text transform="translate(278.19,1270.30) scale(1.0000,1)" font-size="24.5" font-weight="normal" fill="#262626">200</text>
<text transform="translate(372.31,1270.30) scale(1.0000,1)" font-size="24.5" font-weight="normal" fill="#262626">300</text>
<text transform="translate(466.56,1270.30) scale(1.0000,1)" font-size="24.5" font-weight="normal" fill="#262626">400</text>
<text transform="translate(560.31,1270.30) scale(1.0000,1)" font-size="24.5" font-weight="normal" fill="#262626">500</text>
<text transform="translate(654.19,1270.30) scale(1.0000,1)" font-size="24.5" font-weight="normal" fill="#262626">600</text>
<text transform="translate(748.19,1270.30) scale(1.0000,1)" font-size="24.5" font-weight="normal" fill="#262626">700</text>
<text transform="translate(842.31,1270.30) scale(1.0000,1)" font-size="24.5" font-weight="normal" fill="#262626">800</text>
<text transform="translate(936.25,1270.30) scale(1.0000,1)" font-size="24.5" font-weight="normal" fill="#262626">900</text>
<text transform="translate(1023.06,1270.30) scale(1.0000,1)" font-size="24.5" font-weight="normal" fill="#262626">1000</text>
<text transform="translate(1118.00,1270.30) scale(1.0000,1)" font-size="24.5" font-weight="normal" fill="#262626">1100</text>
<text transform="translate(1211.06,1270.30) scale(1.0000,1)" font-size="24.5" font-weight="normal" fill="#262626">1200</text>
<text transform="translate(1305.06,1270.30) scale(1.0000,1)" font-size="24.5" font-weight="normal" fill="#262626">1300</text>
<text transform="translate(1399.06,1270.30) scale(1.0000,1)" font-size="24.5" font-weight="normal" fill="#262626">1400</text>
<text transform="translate(1493.06,1270.30) scale(1.0000,1)" font-size="24.5" font-weight="normal" fill="#262626">1500</text>
<text transform="translate(1587.06,1270.30) scale(1.0000,1)" font-size="24.5" font-weight="normal" fill="#262626">1600</text>
<text transform="translate(1681.06,1270.30) scale(1.0000,1)" font-size="24.5" font-weight="normal" fill="#262626">1700</text>
<text transform="translate(1775.06,1270.30) scale(1.0000,1)" font-size="24.5" font-weight="normal" fill="#262626">1800</text>
<text transform="translate(66.24,1242.62) scale(1.1000,1)" font-size="20.5" font-weight="normal" fill="#262626">-50</text>
<text transform="translate(66.38,1195.26) scale(1.1000,1)" font-size="20.5" font-weight="normal" fill="#262626">-25</text>
<text transform="translate(86.31,1147.90) scale(1.1000,1)" font-size="20.5" font-weight="normal" fill="#262626">0</text>
<text transform="translate(73.94,1100.54) scale(1.1000,1)" font-size="20.5" font-weight="normal" fill="#262626">25</text>
<text transform="translate(73.80,1053.18) scale(1.1000,1)" font-size="20.5" font-weight="normal" fill="#262626">50</text>
<text transform="translate(73.94,1005.82) scale(1.1000,1)" font-size="20.5" font-weight="normal" fill="#262626">75</text>
<text transform="translate(61.29,958.46) scale(1.1000,1)" font-size="20.5" font-weight="normal" fill="#262626">100</text>
<text transform="translate(61.42,911.10) scale(1.1000,1)" font-size="20.5" font-weight="normal" fill="#262626">125</text>
<text transform="translate(61.29,863.74) scale(1.1000,1)" font-size="20.5" font-weight="normal" fill="#262626">150</text>
<text transform="translate(61.42,816.38) scale(1.1000,1)" font-size="20.5" font-weight="normal" fill="#262626">175</text>
<text transform="translate(61.29,769.02) scale(1.1000,1)" font-size="20.5" font-weight="normal" fill="#262626">200</text>
<text transform="translate(61.42,721.66) scale(1.1000,1)" font-size="20.5" font-weight="normal" fill="#262626">225</text>
<text transform="translate(61.29,674.30) scale(1.1000,1)" font-size="20.5" font-weight="normal" fill="#262626">250</text>
<text transform="translate(807.17,629.00) scale(1.1752,1)" font-size="33" font-weight="bold" fill="#000" >Airborne RES (40 MHz)</text>
<text transform="translate(106.04,642.50) scale(1.2057,1)" font-size="34.5" font-weight="bold" fill="#000" >F</text>
<text transform="translate(902.96,815.00) scale(1.3818,1)" font-size="32" font-weight="bold" fill="#000" >F'</text>
<text transform="translate(1434.13,819.00) scale(1.4333,1)" font-size="31" font-weight="bold" fill="#000" >F''</text>
<text transform="translate(1792.71,900.50) scale(1.3579,1)" font-size="31.5" font-weight="bold" fill="#000" >F'''</text>
<text transform="translate(117.83,1221.75) scale(1.2301,1)" font-size="36" font-weight="bold" fill="#000" >b)</text>
<text transform="translate(42.60,1067.86) rotate(-90) scale(0.9780,1)" font-size="29.5" font-weight="bold" fill="#000">Elevation (m a.s.l.)</text>
<text transform="translate(869.99,1319.00) scale(1.1262,1)" font-size="28.6" font-weight="bold" fill="#000" >Distance (m)</text>
<path fill="#fff" fill-opacity="0.85" stroke="#8c8c8c" stroke-width="1.2" d="M248.0,662.6 L265.8,692.0 L231.0,692.0 Z"/>
<path fill="none" stroke="#6a6a6a" stroke-width="1.4" d="M248.0,672.5 L257.5,687.5 L239.5,687.5 Z"/>
<path fill="#0a0ad8" fill-rule="evenodd" d="M580.0,791.0 L598.0,821.0 L563.0,821.0 Z M580.0,802.7 L588.5,815.5 L572.5,815.5 Z"/>
<path fill="#ff1ee6" fill-rule="evenodd" d="M916.5,822.0 L934.0,851.5 L899.5,851.5 Z M916.5,833.5 L924.6,846.1 L908.9,846.1 Z"/>
<path fill="#ff1ee6" fill-rule="evenodd" d="M1045.5,820.8 L1063.6,851.5 L1027.7,851.5 Z M1045.5,832.8 L1053.9,845.9 L1037.4,845.9 Z"/>
<path fill="#ff1ee6" fill-rule="evenodd" d="M1449.0,818.0 L1467.2,848.0 L1431.0,848.0 Z M1449.0,829.7 L1457.4,842.5 L1440.8,842.5 Z"/>
<path fill="#fff" fill-opacity="0.85" stroke="#8c8c8c" stroke-width="1.2" d="M1732.9,850.4 L1751.3,881.6 L1715.2,881.6 Z"/>
<path fill="none" stroke="#6a6a6a" stroke-width="1.4" d="M1732.9,862.0 L1741.5,876.0 L1724.3,876.0 Z"/>
</svg></body></html>
